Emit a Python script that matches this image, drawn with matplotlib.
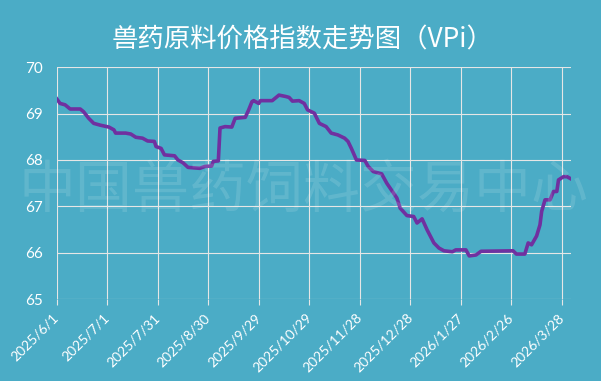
from matplotlib import pyplot as plt
from matplotlib.transforms import ScaledTranslation
import pandas as pd

# index readings (vertices of the curve)
dates = ["2025-06-01", "2025-06-03", "2025-06-06", "2025-06-09", "2025-06-15", "2025-06-17",
         "2025-06-20", "2025-06-23", "2025-06-27", "2025-07-02", "2025-07-05", "2025-07-06",
         "2025-07-12", "2025-07-15", "2025-07-18", "2025-07-22", "2025-07-25", "2025-07-29",
         "2025-07-30", "2025-08-02", "2025-08-04", "2025-08-10", "2025-08-12", "2025-08-15",
         "2025-08-18", "2025-08-25", "2025-08-28", "2025-09-01", "2025-09-02", "2025-09-05",
         "2025-09-06", "2025-09-09", "2025-09-13", "2025-09-15", "2025-09-21", "2025-09-23",
         "2025-09-25", "2025-09-26", "2025-09-29", "2025-09-30", "2025-10-07", "2025-10-11",
         "2025-10-15", "2025-10-17", "2025-10-19", "2025-10-23", "2025-10-26", "2025-10-28",
         "2025-11-01", "2025-11-04", "2025-11-08", "2025-11-11", "2025-11-15", "2025-11-19",
         "2025-11-21", "2025-11-23", "2025-11-26", "2025-12-01", "2025-12-03", "2025-12-06",
         "2025-12-11", "2025-12-14", "2025-12-20", "2025-12-22", "2025-12-26", "2025-12-30",
         "2026-01-01", "2026-01-04", "2026-01-07", "2026-01-11", "2026-01-14", "2026-01-17",
         "2026-01-22", "2026-01-24", "2026-01-30", "2026-02-01", "2026-02-05", "2026-02-08",
         "2026-02-27", "2026-03-01", "2026-03-06", "2026-03-08", "2026-03-10", "2026-03-13",
         "2026-03-15", "2026-03-16", "2026-03-18", "2026-03-21", "2026-03-23", "2026-03-25",
         "2026-03-26", "2026-03-29", "2026-03-31", "2026-04-02"]
vpi = [69.32, 69.22, 69.19, 69.10, 69.10, 69.04,
       68.90, 68.79, 68.75, 68.71, 68.65, 68.58,
       68.58, 68.56, 68.49, 68.47, 68.41, 68.40,
       68.29, 68.25, 68.11, 68.09, 68.00, 67.94,
       67.84, 67.82, 67.86, 67.87, 67.97, 67.98,
       68.69, 68.72, 68.71, 68.90, 68.92, 69.08,
       69.26, 69.28, 69.22, 69.28, 69.28, 69.40,
       69.37, 69.35, 69.27, 69.28, 69.22, 69.08,
       69.01, 68.79, 68.72, 68.58, 68.54, 68.47,
       68.40, 68.25, 68.00, 67.99, 67.86, 67.75,
       67.70, 67.50, 67.18, 66.96, 66.80, 66.78,
       66.64, 66.73, 66.49, 66.21, 66.10, 66.04,
       66.02, 66.06, 66.06, 65.93, 65.95, 66.03,
       66.04, 65.97, 65.97, 66.21, 66.17, 66.36,
       66.60, 66.89, 67.14, 67.14, 67.32, 67.32,
       67.57, 67.64, 67.64, 67.60]

tick_dates = ["2025-06-01", "2025-07-01", "2025-07-31", "2025-08-30", "2025-09-29", "2025-10-29",
              "2025-11-28", "2025-12-28", "2026-01-27", "2026-02-26", "2026-03-28"]
tick_labels = ["2025/6/1", "2025/7/1", "2025/7/31", "2025/8/30", "2025/9/29", "2025/10/29",
               "2025/11/28", "2025/12/28", "2026/1/27", "2026/2/26", "2026/3/28"]
y_ticks = [65, 66, 67, 68, 69, 70]

title = "兽药原料价格指数走势图（VPi）"
watermark = "中国兽药饲料交易中心"

bg = "#4BACC6"
cjk = ["Noto Sans CJK SC", "DejaVu Sans"]

fig = plt.figure(figsize=(6.01, 3.81), dpi=100, facecolor=bg)
ax = fig.add_axes([0.0943, 0.2152, 0.856, 0.6082])
ax.set_facecolor(bg)

x = pd.to_datetime(dates)
ax.plot(x, vpi, color="#7030A0", linewidth=2.6, solid_joinstyle="round", zorder=3)

ax.set_ylim(65, 70)
ax.set_yticks(y_ticks)
ax.set_xlim(pd.Timestamp("2025-06-01"), pd.Timestamp("2026-04-02 12:00"))
ax.set_xticks(pd.to_datetime(tick_dates))
ax.set_xticklabels(tick_labels, rotation=45, ha="right", va="center", rotation_mode="anchor",
                   fontsize=10, color="white", family="Lato")
# nudge the rotated labels a little to the right, like the original
shift = ScaledTranslation(3 / 72, 0, fig.dpi_scale_trans)
for lab in ax.get_xticklabels():
    lab.set_transform(lab.get_transform() + shift)
for lab in ax.get_yticklabels():
    lab.set_family("Lato")
ax.tick_params(axis="y", length=0, pad=10, labelsize=11, labelcolor="white")
ax.tick_params(axis="x", length=4, width=0.8, color="#E6E6E6", pad=8)

ax.grid(True, color="#E6E6E6", linewidth=0.8, zorder=1)
for s in ax.spines.values():
    s.set_visible(False)

# watermark across the plot
fig.text(0.505, 0.50, watermark, family=cjk, fontsize=41, color="white", alpha=0.12,
         ha="center", va="center", zorder=0)

fig.text(0.503, 0.895, title, family=cjk, fontsize=19, color="white", ha="center", va="center")

fig.savefig("out.png", dpi=100, facecolor=bg)
